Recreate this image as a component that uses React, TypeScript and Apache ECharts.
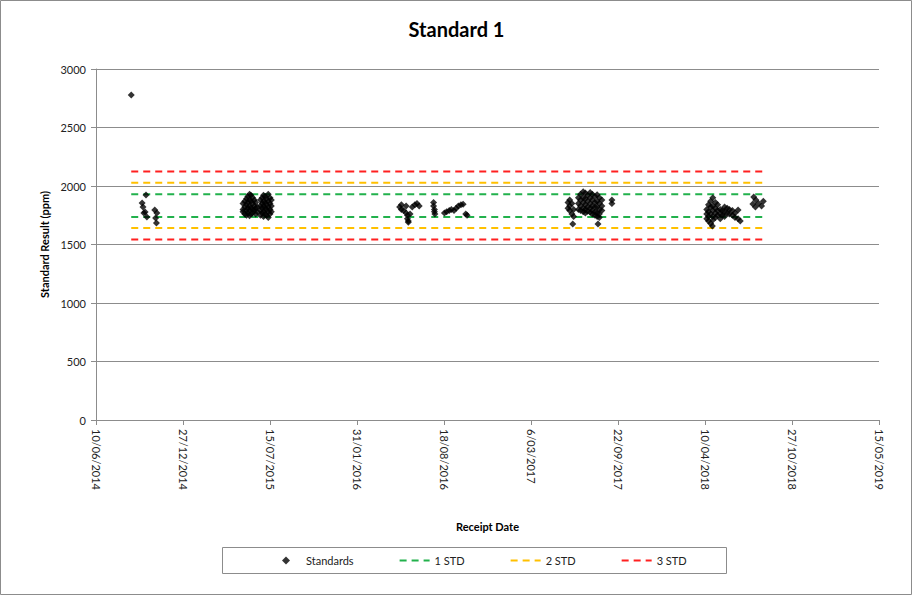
import React, { useEffect, useRef } from "react";
import * as echarts from "echarts";

// Receipt dates as Excel serial day numbers (41800 = 10/06/2014)
const receiptDates: number[] = [
  41881,
  41915, 41906, 41908, 41913, 41910, 41917, 41935, 41940, 41937, 41939,
  42138, 42138, 42138, 42142, 42142, 42142, 42146, 42146, 42146, 42146,
  42149, 42149, 42149, 42149, 42153, 42153, 42153, 42153, 42153,
  42156, 42156, 42156, 42156, 42160, 42160, 42160, 42160,
  42164, 42164, 42164, 42167, 42167, 42167, 42171, 42171,
  42178, 42178, 42178, 42178, 42182, 42182, 42182, 42182,
  42185, 42185, 42185, 42185, 42185, 42189, 42189, 42189, 42189,
  42192, 42192, 42192, 42192, 42196, 42196, 42196, 42196, 42196,
  42200, 42200, 42200, 42200, 42203, 42203, 42203,
  42498, 42502, 42502, 42507, 42513, 42513, 42516, 42516, 42518, 42518,
  42522, 42527, 42533, 42538, 42543,
  42576, 42576, 42578, 42578, 42579,
  42601, 42606, 42612, 42617, 42623, 42628, 42633, 42639, 42644, 42650, 42653,
  42885, 42885, 42889, 42889, 42889, 42894, 42894, 42898, 42898, 42896,
  42909, 42909, 42909, 42914, 42914, 42914, 42914,
  42920, 42920, 42920, 42920, 42920, 42925, 42925, 42925, 42925, 42925,
  42930, 42930, 42930, 42930, 42936, 42936, 42936, 42936, 42936,
  42941, 42941, 42941, 42941, 42941, 42947, 42947, 42947, 42947, 42947,
  42952, 42952, 42952, 42952, 42952, 42957, 42957, 42957, 42957, 42957,
  42963, 42963, 42963, 42954, 42986, 42986,
  43204, 43204, 43204, 43208, 43208, 43208, 43208, 43213, 43213, 43213, 43213,
  43217, 43218, 43218, 43218, 43218, 43218, 43224, 43224, 43224, 43224,
  43229, 43229, 43229, 43235, 43235, 43235, 43240, 43240,
  43245, 43245, 43245, 43251, 43251, 43256, 43256, 43263, 43263,
  43269, 43269, 43276, 43276, 43281,
  43312, 43317, 43310, 43316, 43323, 43330, 43334,
];

const standardResults: number[] = [
  2778,
  1923, 1855, 1821, 1778, 1769, 1735, 1795, 1769, 1726, 1684,
  1850, 1800, 1780, 1870, 1820, 1760, 1890, 1840, 1790, 1750,
  1910, 1860, 1810, 1770, 1930, 1880, 1830, 1790, 1745,
  1920, 1870, 1815, 1760, 1900, 1850, 1800, 1770,
  1880, 1830, 1790, 1860, 1810, 1760, 1820, 1780,
  1880, 1830, 1790, 1750, 1900, 1850, 1810, 1770,
  1920, 1870, 1830, 1780, 1740, 1910, 1860, 1810, 1760,
  1890, 1840, 1800, 1750, 1930, 1870, 1820, 1780, 1730,
  1900, 1850, 1800, 1760, 1880, 1830, 1780,
  1820, 1800, 1840, 1790, 1830, 1770, 1750, 1720, 1700, 1690,
  1760, 1820, 1840, 1850, 1830,
  1860, 1830, 1800, 1780, 1760,
  1770, 1780, 1790, 1800, 1790, 1810, 1830, 1840, 1845, 1760, 1750,
  1860, 1810, 1880, 1830, 1790, 1850, 1760, 1740, 1800, 1675,
  1900, 1850, 1800, 1930, 1880, 1830, 1790,
  1950, 1900, 1860, 1810, 1780, 1940, 1890, 1840, 1800, 1770,
  1920, 1870, 1820, 1785, 1945, 1900, 1850, 1810, 1775,
  1930, 1880, 1830, 1790, 1760, 1910, 1860, 1820, 1780, 1750,
  1925, 1870, 1820, 1770, 1740, 1900, 1850, 1800, 1760, 1730,
  1880, 1830, 1790, 1675, 1880, 1850,
  1800, 1760, 1720, 1840, 1780, 1740, 1700, 1870, 1820, 1760, 1680,
  1658, 1900, 1830, 1790, 1740, 1710, 1860, 1810, 1770, 1730,
  1840, 1790, 1750, 1800, 1760, 1720, 1790, 1750,
  1820, 1780, 1740, 1810, 1770, 1800, 1760, 1790, 1750,
  1770, 1730, 1795, 1720, 1700,
  1906, 1880, 1847, 1820, 1850, 1830, 1870,
];

// Control limit lines (start / end receipt dates, lower / upper levels)
const limitDates: number[] = [41881, 43337];
const oneStd: number[] = [1736, 1930];
const twoStd: number[] = [1640, 2027];
const threeStd: number[] = [1543, 2124];

const xMin = 41800;
const xMax = 43600;
const xInterval = 200;
const yMin = 0;
const yMax = 3000;
const yInterval = 500;

const FONT = "Lato, 'Open Sans', sans-serif";
const DIAMOND = "path://M5,0L10,5L5,10L0,5Z";

function serialToLabel(v: number): string {
  const d = new Date(Date.UTC(1899, 11, 30) + Math.round(v) * 86400000);
  return `${d.getUTCDate()}/${String(d.getUTCMonth() + 1).padStart(2, "0")}/${d.getUTCFullYear()}`;
}

function limitSeries(name: string, color: string, level: number) {
  return {
    name,
    type: "line",
    symbol: "none",
    silent: true,
    data: limitDates.map((d) => [d, level]),
    lineStyle: { color, width: 2, type: [7, 5] },
    itemStyle: { color },
  };
}

export default function App() {
  const ref = useRef<HTMLDivElement>(null);
  useEffect(() => {
    if (!ref.current) return;
    const chart = echarts.init(ref.current, undefined, { renderer: "svg" });
    const scatterData = receiptDates.map((d, i) => [d, standardResults[i]]);
    chart.setOption({
      animation: false,
      backgroundColor: "#ffffff",
      textStyle: { fontFamily: FONT },
      title: {
        text: "Standard 1",
        left: "center",
        top: 14,
        textStyle: { fontFamily: FONT, fontSize: 20, fontWeight: "bold", color: "#000" },
      },
      graphic: [
        {
          type: "rect",
          shape: { x: 0.5, y: 0.5, width: 911, height: 594 },
          style: { fill: "none", stroke: "#8c8c8c", lineWidth: 1 },
          silent: true,
        },
        {
          type: "rect",
          shape: { x: 222.5, y: 547.5, width: 504, height: 26 },
          style: { fill: "none", stroke: "#8c8c8c", lineWidth: 1 },
          silent: true,
        },
      ],
      legend: {
        left: 277,
        top: 550,
        itemWidth: 30,
        itemHeight: 8,
        itemGap: 45,
        symbolKeepAspect: true,
        data: [
          { name: "Standards", icon: DIAMOND },
          { name: "1 STD", itemStyle: { opacity: 0 } },
          { name: "2 STD", itemStyle: { opacity: 0 } },
          { name: "3 STD", itemStyle: { opacity: 0 } },
        ],
        textStyle: { fontFamily: FONT, fontSize: 11, color: "#222" },
      },
      grid: { left: 96, right: 34, top: 69, bottom: 176, containLabel: false },
      xAxis: {
        type: "value",
        min: xMin,
        max: xMax,
        interval: xInterval,
        name: "Receipt Date",
        nameLocation: "middle",
        nameGap: 101,
        nameTextStyle: { fontFamily: FONT, fontSize: 11, fontWeight: "bold", color: "#000" },
        axisLine: { show: true, onZero: false, lineStyle: { color: "#8c8c8c", width: 1 } },
        axisTick: { show: true, length: 5, lineStyle: { color: "#8c8c8c" } },
        splitLine: { show: false },
        axisLabel: {
          rotate: -90,
          margin: 9,
          fontSize: 11,
          color: "#222",
          fontFamily: FONT,
          formatter: (v: number) => serialToLabel(v),
        },
      },
      yAxis: {
        type: "value",
        min: yMin,
        max: yMax,
        interval: yInterval,
        name: "Standard Result (ppm)",
        nameLocation: "middle",
        nameGap: 38,
        nameTextStyle: { fontFamily: FONT, fontSize: 11, fontWeight: "bold", color: "#000" },
        axisLine: { show: true, lineStyle: { color: "#8c8c8c", width: 1 } },
        axisTick: { show: true, length: 5, lineStyle: { color: "#8c8c8c" } },
        splitLine: { show: true, lineStyle: { color: "#8c8c8c", width: 1 } },
        axisLabel: {
          margin: 10,
          fontSize: 11,
          color: "#222",
          fontFamily: FONT,
          formatter: (v: number) => String(v),
        },
      },
      series: [
        limitSeries("1 STD", "#22b14c", oneStd[0]),
        limitSeries("1 STD", "#22b14c", oneStd[1]),
        limitSeries("2 STD", "#ffc000", twoStd[0]),
        limitSeries("2 STD", "#ffc000", twoStd[1]),
        limitSeries("3 STD", "#ff2020", threeStd[0]),
        limitSeries("3 STD", "#ff2020", threeStd[1]),
        {
          name: "Standards",
          type: "scatter",
          symbol: "diamond",
          symbolSize: 7,
          itemStyle: { color: "#000000" },
          data: scatterData,
          z: 5,
        },
      ],
    });
    return () => chart.dispose();
  }, []);
  return (
    <div
      ref={ref}
      style={{ position: "fixed", left: 0, top: 0, width: 913, height: 596, background: "#fff" }}
    />
  );
}
